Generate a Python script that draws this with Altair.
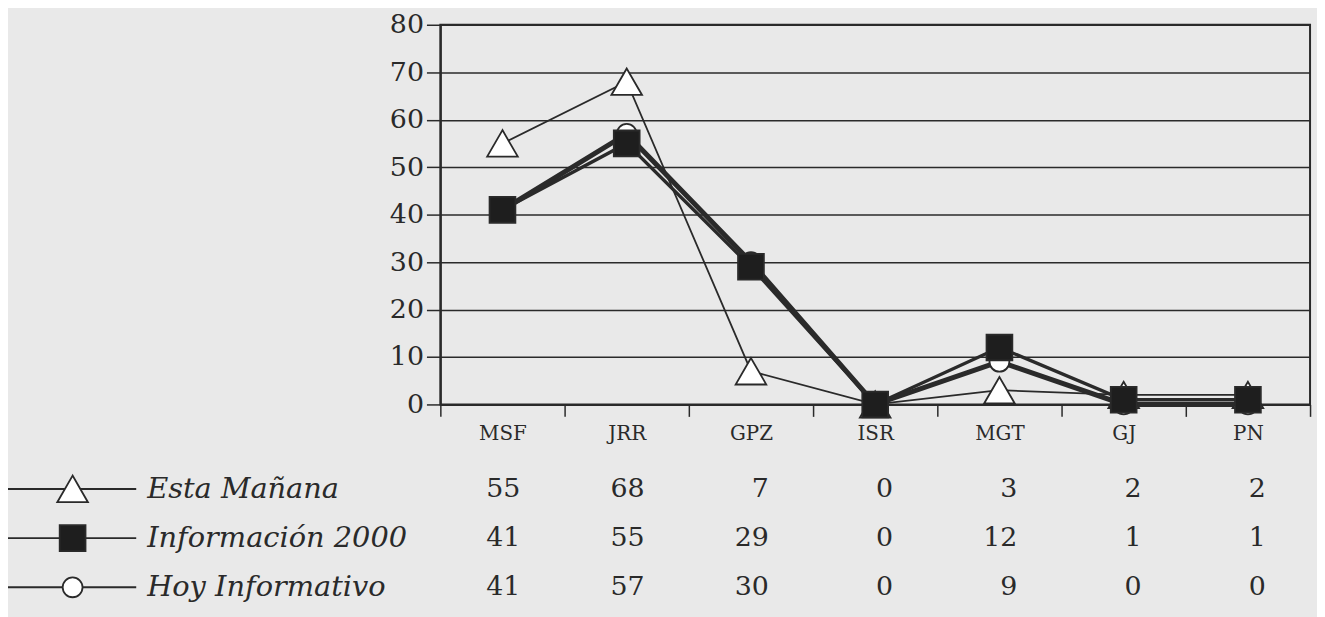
import altair as alt
import pandas as pd

categories = ["MSF", "JRR", "GPZ", "ISR", "MGT", "GJ", "PN"]
series_names = ["Esta Mañana", "Información 2000", "Hoy Informativo"]
esta_manana = [55, 68, 7, 0, 3, 2, 2]
informacion_2000 = [41, 55, 29, 0, 12, 1, 1]
hoy_informativo = [41, 57, 30, 0, 9, 0, 0]
y_ticks = [0, 10, 20, 30, 40, 50, 60, 70, 80]

values = [esta_manana, informacion_2000, hoy_informativo]
z_order = [0, 2, 1]
rows = []
for i, (s, vals, z) in enumerate(zip(series_names, values, z_order)):
    for c, v in zip(categories, vals):
        rows.append({"cat": c, "series": s, "value": v, "z": z, "row": i})
df = pd.DataFrame(rows)
leg = pd.DataFrame({"series": series_names, "z": z_order, "row": [0, 1, 2]})

INK = "#2a2a2a"
BG = "#e9e9e9"
FONT = "DejaVu Serif"

x_enc = alt.X("cat:N", sort=categories,
              scale=alt.Scale(paddingInner=0, paddingOuter=0),
              axis=alt.Axis(title=None, labelAngle=0, tickBand="extent",
                            labelFont=FONT, labelFontSize=20, labelColor=INK,
                            tickSize=12, tickColor=INK, tickWidth=1.5,
                            domainColor=INK, domainWidth=2, labelPadding=7,
                            grid=False))
y_enc = alt.Y("value:Q", scale=alt.Scale(domain=[0, 80], nice=False),
              axis=alt.Axis(title=None, values=y_ticks, labelFont=FONT,
                            labelFontSize=27, labelColor=INK, tickSize=14,
                            tickColor=INK, tickWidth=1.5, domainColor=INK,
                            domainWidth=2, labelPadding=3, grid=True,
                            gridColor=INK, gridWidth=1.5, gridOpacity=1))

shape_sc = alt.Scale(domain=series_names, range=["triangle-up", "square", "circle"])
fill_sc = alt.Scale(domain=series_names, range=["white", "#1e1e1e", "white"])
size_sc = alt.Scale(domain=series_names, range=[950, 400, 600])
sw_sc = alt.Scale(domain=series_names, range=[1.8, 5, 1.8])

lines = alt.Chart(df).mark_line(color=INK).encode(
    x=x_enc, y=y_enc, detail="series:N",
    strokeWidth=alt.StrokeWidth("series:N", scale=sw_sc, legend=None),
    order=alt.Order("z:Q"),
)
points = alt.Chart(df).mark_point(filled=True, stroke=INK, strokeWidth=1.8, opacity=1).encode(
    x=alt.X("cat:N", sort=categories),
    y=alt.Y("value:Q"),
    shape=alt.Shape("series:N", scale=shape_sc, legend=None),
    fill=alt.Fill("series:N", scale=fill_sc, legend=None),
    size=alt.Size("series:N", scale=size_sc, legend=None),
    order=alt.Order("z:Q"),
)
main = alt.layer(lines, points)

row_y = alt.Y("row:Q", scale=alt.Scale(domain=[0, 2], range=[467, 566], nice=False, zero=False),
              axis=None)

leg_rule = alt.Chart(leg).mark_rule(color=INK, strokeWidth=2).encode(
    x=alt.value(-436), x2=alt.value(-306), y=row_y)
leg_pts = alt.Chart(leg).mark_point(filled=True, stroke=INK, strokeWidth=1.8, opacity=1).encode(
    x=alt.value(-370), y=row_y,
    shape=alt.Shape("series:N", scale=shape_sc, legend=None),
    fill=alt.Fill("series:N", scale=fill_sc, legend=None),
    size=alt.Size("series:N", scale=size_sc, legend=None),
)
leg_txt = alt.Chart(leg).mark_text(align="left", baseline="middle", font=FONT,
                                   fontStyle="italic", fontSize=29, color=INK).encode(
    x=alt.value(-295), y=row_y, text="series:N")
tbl_txt = alt.Chart(df).mark_text(align="right", baseline="middle", font=FONT,
                                  fontSize=27, color=INK, dx=18).encode(
    x=alt.X("cat:N", sort=categories), y=row_y, text="value:Q")

table = alt.layer(leg_rule, leg_pts, leg_txt, tbl_txt)

chart = alt.layer(main, table).resolve_scale(
    y="independent", shape="shared", fill="shared", size="shared"
).properties(
    width=875, height=382,
    autosize=alt.AutoSizeParams(type="none"),
    padding={"left": 435, "top": 15, "right": 7, "bottom": 212},
    background=BG,
).configure_view(stroke=INK, strokeWidth=2, fill=BG)

chart.save("out.html", embed_options={"renderer": "svg", "actions": False})
